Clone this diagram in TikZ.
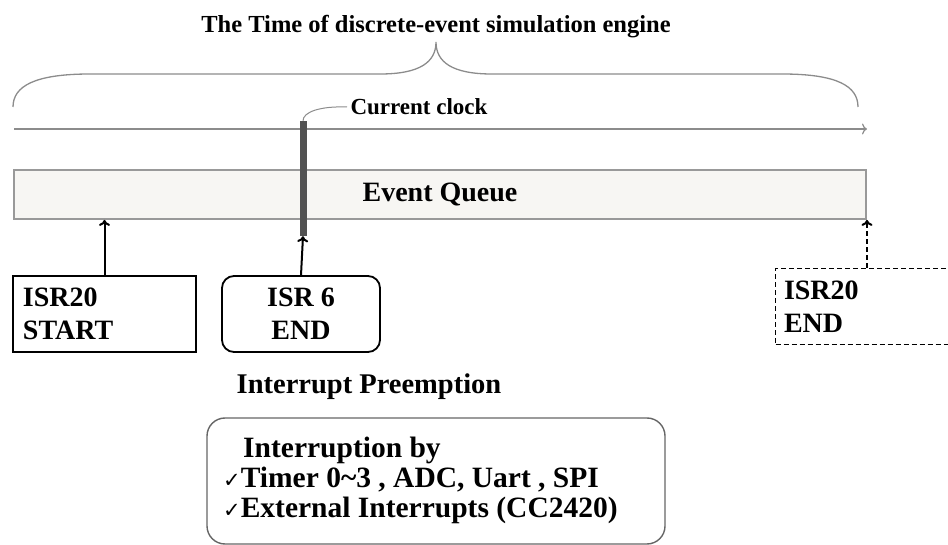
\documentclass[tikz,border=0pt]{standalone}
\usepackage{fontspec}
\setmainfont{Liberation Serif}
\newfontfamily\symfont{DejaVu Sans}
\usetikzlibrary{positioning,arrows.meta}
\newcommand{\mybargray}{black!68}
\newcommand{\mylinegray}{black!45}
\newcommand{\mytick}{{\symfont\mdseries\fontsize{21}{21}\selectfont ✓}}
\definecolor{queuefill}{RGB}{247,246,243}
\tikzset{
  isrbox/.style={draw, line width=1.8pt, minimum width=183pt, minimum height=76pt,
    font=\bfseries\fontsize{28}{33}\selectfont, inner sep=0pt},
  uparrow/.style={-{To[length=6pt,width=11pt]}, line width=2pt}
}

\begin{document}
\begin{tikzpicture}[x=1pt,y=-1pt]
\useasboundingbox (0,0) rectangle (948,545);
\clip (0,0) rectangle (948,545);
\node[font=\bfseries\fontsize{24.5}{28}\selectfont] (title) at (436,27) {The Time of discrete-event simulation engine};
\draw[\mylinegray, line width=1.3pt] (13,107) .. controls (13,86) and (35,74) .. (90,74) -- (380,74)
  .. controls (420,74) and (436,62) .. (436,42)
  .. controls (436,62) and (452,74) .. (492,74) -- (782,74)
  .. controls (837,74) and (858,86) .. (858,107);
\coordinate (tstart) at (14,129);
\coordinate (tend) at (867,129);
\draw[\mylinegray, line width=1.2pt, -{To[length=5pt,width=11pt]}] (tstart) -- (tend);
% event queue
\node[draw=black!40, line width=1.8pt, fill=queuefill, minimum width=852pt, minimum height=49pt,
  inner sep=0pt, font=\bfseries\fontsize{28}{30}\selectfont] (queue) at (440,194.5) {Event Queue};
\node[fill=\mybargray, minimum width=7pt, minimum height=115pt, inner sep=0pt] (clockbar) at (303,178.5) {};
\node[anchor=west, font=\bfseries\fontsize{23}{26}\selectfont] (clocklbl) at (347,107) {Current clock};
\draw[\mylinegray, line width=1pt] (clockbar.north) .. controls (303,112) and (320,106) .. (clocklbl.west);
% isr boxes
\node[isrbox, align=left, text width=163pt] (isrstart) at (104.5,314) {ISR20\\START};
\node[isrbox, rounded corners=12pt, minimum width=158pt, align=center] (isrsixend) at (301,314) {ISR 6\\END};
\node[isrbox, dash pattern=on 5pt off 3pt, align=left, text width=166pt] (isrend) at (867,306.5) {ISR20\\END};
\draw[uparrow] (isrstart.north) -- (isrstart.north |- queue.south);
\draw[uparrow] (isrsixend.north) -- (clockbar.south);
\draw[uparrow, dash pattern=on 5pt off 3pt] (isrend.north) -- (isrend.north |- queue.south);
% preemption
\node[font=\bfseries\fontsize{28.5}{32}\selectfont] (preempt) at (369,387) {Interrupt Preemption};
\node[draw=black!60, line width=1.4pt, rounded corners=18pt, minimum width=458pt, minimum height=126pt,
  inner sep=0pt] (irqbox) at (436,481) {};
\node[anchor=north west, align=left, inner sep=0pt, font=\bfseries\fontsize{29.5}{30}\selectfont]
  (irqtext) at (223,437) {\hspace*{20pt}Interruption by\\\mytick Timer 0\textasciitilde3 , ADC, Uart , SPI\\\mytick External Interrupts (CC2420)};
\end{tikzpicture}
\end{document}
